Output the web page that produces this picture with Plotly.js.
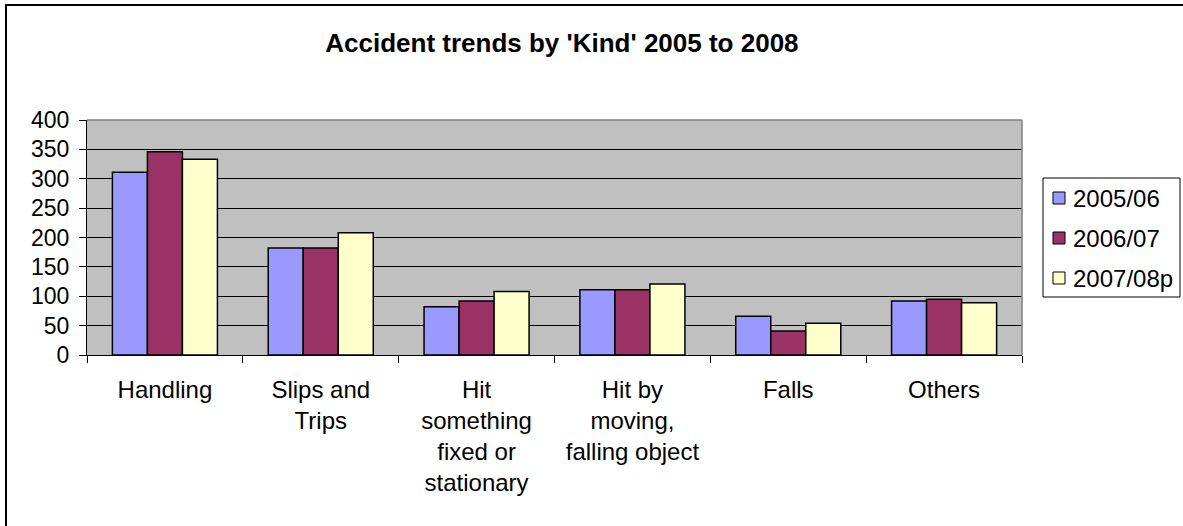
<!DOCTYPE html>
<html>
<head>
<meta charset="utf-8">
<script src="https://cdn.plot.ly/plotly-3.0.1.min.js"></script>
<style>
  html, body { margin: 0; padding: 0; background: #ffffff; }
  #wrap { position: relative; width: 1183px; height: 526px; overflow: hidden; }
  #frame { position: absolute; left: 5px; top: 4px; width: 1200px; height: 600px;
           border-top: 2px solid #000; border-left: 2px solid #000; box-sizing: border-box; }
  #chart { position: absolute; left: 0; top: 0; width: 1183px; height: 526px; }
</style>
</head>
<body>
<div id="wrap">
  <div id="frame"></div>
  <div id="chart"></div>
</div>
<script>
const categories = [
  "Handling",
  "Slips and<br>Trips",
  "Hit<br>something<br>fixed or<br>stationary",
  "Hit by<br>moving,<br>falling object",
  "Falls",
  "Others"
];
const seriesNames = ["2005/06", "2006/07", "2007/08p"];
const values2005 = [311, 182, 82, 111, 66, 92];
const values2006 = [346, 182, 92, 111, 41, 95];
const values2007 = [333, 208, 108, 121, 54, 89];
const yTicks = [0, 50, 100, 150, 200, 250, 300, 350, 400];

const colors = ["#9999FF", "#993366", "#FFFFCC"];
const allValues = [values2005, values2006, values2007];

const W = 1183, H = 526;
const M = { l: 87, r: 161, t: 120, b: 171 };
const PW = W - M.l - M.r, PH = H - M.t - M.b;
const px2x = (px) => (px - M.l) / PW;
const py2y = (py) => (H - M.b - py) / PH;

const traces = allValues.map((vals, i) => ({
  type: "bar",
  name: seriesNames[i],
  x: categories,
  y: vals,
  marker: { color: colors[i], line: { color: "#000000", width: 1.5 } },
  hoverinfo: "none",
  showlegend: false
}));

const font = "Liberation Sans, Arial, sans-serif";

// Manual legend (box, swatches, labels)
const legendShapes = [
  { type: "rect", xref: "paper", yref: "paper",
    x0: px2x(1043), x1: px2x(1180), y0: py2y(297), y1: py2y(178),
    fillcolor: "#FFFFFF", line: { color: "#000000", width: 1 }, layer: "above" }
];
const legendAnnots = [];
seriesNames.forEach((name, i) => {
  const cy = 198 + 40 * i;
  legendShapes.push({ type: "rect", xref: "paper", yref: "paper",
    x0: px2x(1053), x1: px2x(1065), y0: py2y(cy + 6), y1: py2y(cy - 6),
    fillcolor: colors[i], line: { color: "#000000", width: 1 }, layer: "above" });
  legendAnnots.push({ xref: "paper", yref: "paper", x: px2x(1071), y: py2y(cy),
    xanchor: "left", yanchor: "middle", showarrow: false, text: name,
    font: { family: font, size: 24, color: "#000000" } });
});

const layout = {
  width: W,
  height: H,
  paper_bgcolor: "rgba(0,0,0,0)",
  plot_bgcolor: "#C0C0C0",
  margin: { l: M.l, r: M.r, t: M.t, b: M.b, pad: 0 },
  font: { family: font, size: 24, color: "#000000" },
  title: {
    text: "Accident trends by 'Kind' 2005 to 2008",
    font: { family: font, size: 26, color: "#000000", weight: "bold" },
    xref: "container", yref: "container",
    x: 0.475, xanchor: "center",
    y: 1 - 43 / 526, yanchor: "middle"
  },
  barmode: "group",
  bargap: 0.326,
  bargroupgap: 0,
  showlegend: false,
  xaxis: {
    type: "category",
    showline: true, linecolor: "#000000", linewidth: 1,
    ticks: "outside", tickson: "boundaries", ticklen: 7, tickcolor: "#000000", tickwidth: 1,
    showgrid: false, zeroline: false,
    tickfont: { family: font, size: 24, color: "#000000" },
    ticklabelstandoff: 13,
    fixedrange: true
  },
  yaxis: {
    range: [0, 400],
    tickvals: yTicks,
    ticktext: yTicks.map(String),
    showline: true, linecolor: "#000000", linewidth: 1,
    ticks: "outside", ticklen: 7, tickcolor: "#000000", tickwidth: 1,
    showgrid: true, gridcolor: "#000000", gridwidth: 1,
    zeroline: false,
    tickfont: { family: font, size: 23, color: "#000000" },
    ticklabelstandoff: 5,
    fixedrange: true
  },
  shapes: [
    { type: "line", xref: "paper", yref: "paper", x0: 0, x1: 1, y0: 1, y1: 1,
      line: { color: "#808080", width: 1.5 }, layer: "above" },
    { type: "line", xref: "paper", yref: "paper", x0: 1, x1: 1, y0: 0, y1: 1,
      line: { color: "#808080", width: 1.5 }, layer: "above" }
  ].concat(legendShapes),
  annotations: legendAnnots
};

Plotly.newPlot("chart", traces, layout, { displayModeBar: false, staticPlot: true });
</script>
</body>
</html>
